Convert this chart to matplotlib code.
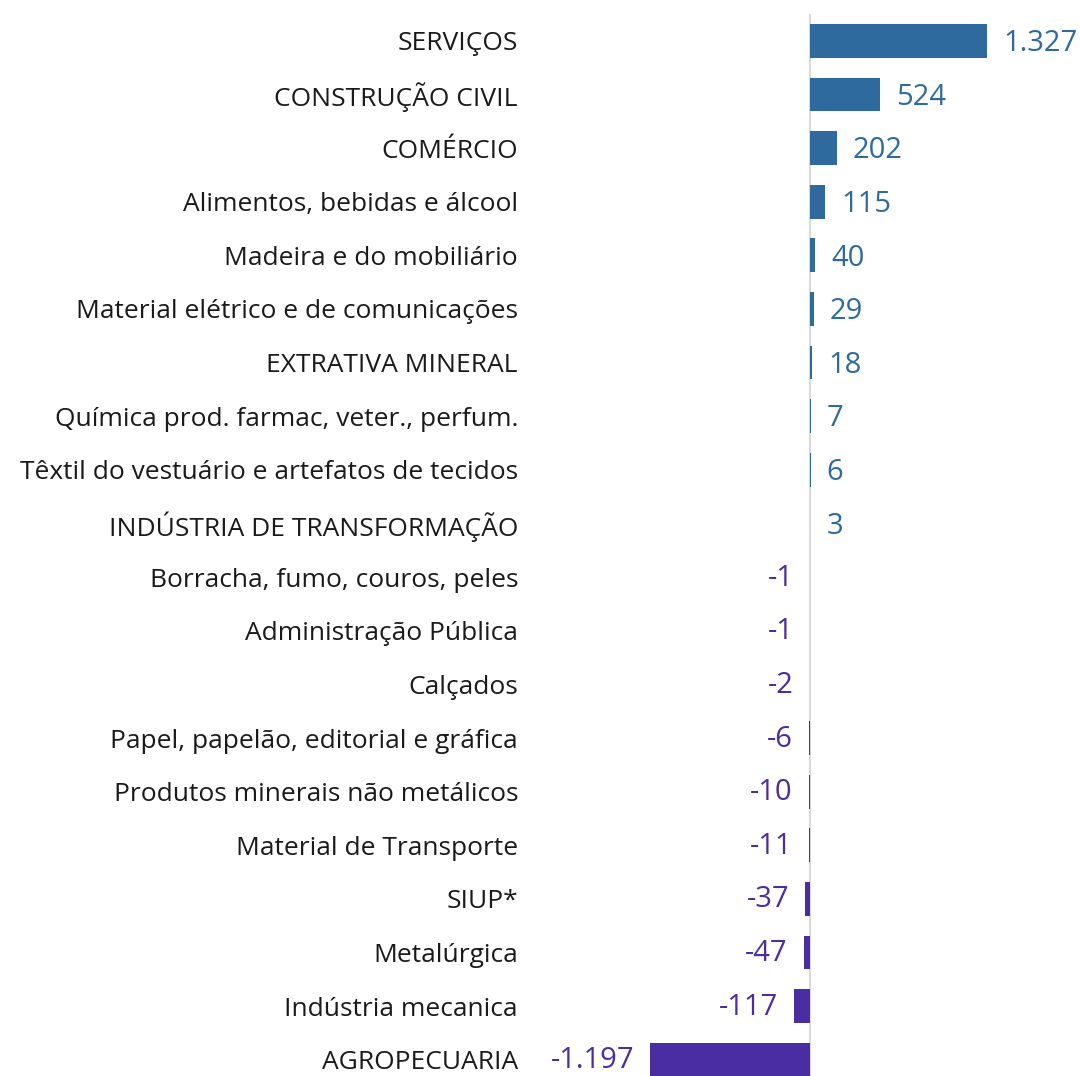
import matplotlib
matplotlib.use("Agg")
import matplotlib.pyplot as plt

categories = [
    "SERVIÇOS", "CONSTRUÇÃO CIVIL", "COMÉRCIO", "Alimentos, bebidas e álcool",
    "Madeira e do mobiliário", "Material elétrico e de comunicações",
    "EXTRATIVA MINERAL", "Química prod. farmac, veter., perfum.",
    "Têxtil do vestuário e artefatos de tecidos", "INDÚSTRIA DE TRANSFORMAÇÃO",
    "Borracha, fumo, couros, peles", "Administração Pública", "Calçados",
    "Papel, papelão, editorial e gráfica", "Produtos minerais não metálicos",
    "Material de Transporte", "SIUP*", "Metalúrgica", "Indústria mecanica",
    "AGROPECUARIA",
]
values = [1327, 524, 202, 115, 40, 29, 18, 7, 6, 3,
          -1, -1, -2, -6, -10, -11, -37, -47, -117, -1197]
value_labels = ["1.327", "524", "202", "115", "40", "29", "18", "7", "6", "3",
                "-1", "-1", "-2", "-6", "-10", "-11", "-37", "-47", "-117", "-1.197"]

pos_color = "#2E6A9E"
neg_color = "#4B2DA3"

plt.rcParams['font.family'] = ['Open Sans', 'DejaVu Sans']

W, H = 1080, 1076
fig = plt.figure(figsize=(W / 100, H / 100), dpi=100)
ax_left, ax_right = 540, 1080
ax_top, ax_bottom = 14, 1076
ax = fig.add_axes([ax_left / W, 1 - ax_bottom / H, (ax_right - ax_left) / W, (ax_bottom - ax_top) / H])

scale = 0.1334  # px per unit
zero_px = 810
ax.set_xlim(-(zero_px - ax_left) / scale, (ax_right - zero_px) / scale)
row = 53.63
ax.set_ylim(-0.5 + (ax_bottom - ax_top) / row, -0.5)

ypos = list(range(len(categories)))
colors = [pos_color if v >= 0 else neg_color for v in values]
ax.barh(ypos, values, height=0.63, color=colors)
ax.axvline(0, color="#D9D9D9", lw=1.5, zorder=0)

for y, v, lab, c in zip(ypos, values, value_labels, colors):
    if v >= 0:
        ax.text(v + 120, y + 0.05, lab, ha="left", va="center", fontsize=21, color=c)
    else:
        ax.text(v - 120, y + 0.02, lab, ha="right", va="center", fontsize=21, color=c)

ax.set_yticks(ypos)
ax.set_yticklabels(categories, fontsize=19, color="#1a1a1a")
ax.tick_params(axis="y", length=0, pad=(ax_left - 518) * 0.72)
ax.set_xticks([])
for s in ax.spines.values():
    s.set_visible(False)

fig.savefig("out.png", dpi=100)
